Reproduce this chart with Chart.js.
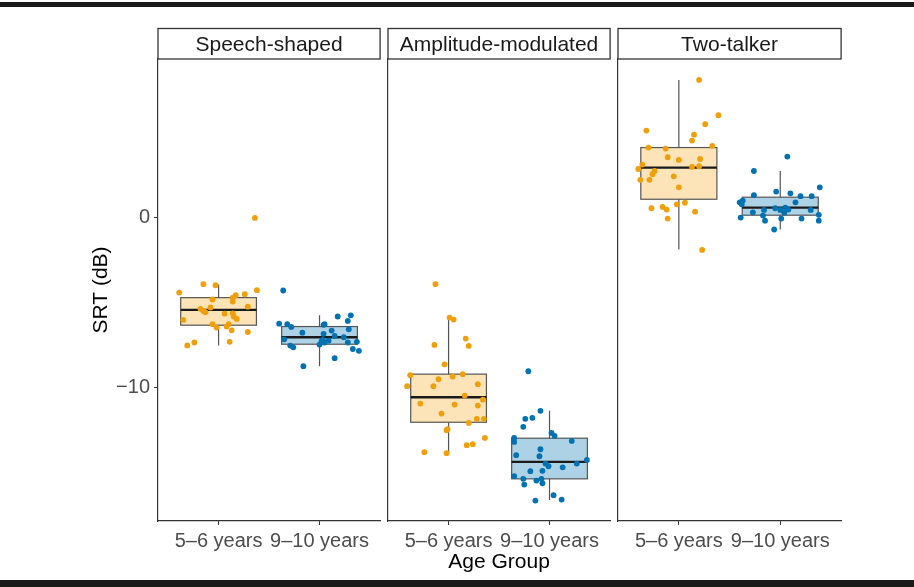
<!DOCTYPE html>
<html>
<head>
<meta charset="utf-8">
<script src="https://cdn.jsdelivr.net/npm/chart.js@4.4.1/dist/chart.umd.min.js"></script>
<style>
    body {margin: 0; background: #fff;}
    #wrap {position: relative; width: 914px; height: 587px; background: #fff; overflow: hidden;}
    .rule {position: absolute; left: 0; width: 914px; background: #1a1a1a;}
    canvas {position: absolute; top: 0;}
</style>
</head>
<body>
<div id="wrap">
    <div class="rule" style="top:2px;height:5px"></div>
    <canvas id="p0" width="383" height="587" style="left:0px"></canvas>
    <canvas id="p1" width="230" height="587" style="left:383px"></canvas>
    <canvas id="p2" width="231" height="587" style="left:613px"></canvas>
    <div class="rule" style="top:580px;height:7px"></div>
</div>
<script>
// facets and groups
var conditions = ['Speech-shaped', 'Amplitude-modulated', 'Two-talker'];
var groups = ['5–6 years', '9–10 years'];
var yTicks = [-10, 0];
var yRange = [-17.83, 9.35];

// box stats, [condition][group]
var whiskerLow  = [[-7.5, -8.72], [-13.84, -16.6], [-1.86, -0.68]];
var q1          = [[-6.31, -7.43], [-12.02, -15.35], [1.10, 0.16]];
var median      = [[-5.41, -7.02], [-10.55, -14.35], [2.96, 0.61]];
var q3          = [[-4.69, -6.39], [-9.19, -12.96], [4.14, 1.22]];
var whiskerHigh = [[-3.92, -5.73], [-5.86, -11.35], [8.12, 2.76]];

// jittered points: SRT (dB) and horizontal jitter (category units)
var speechYoung = [0.0, -4.39, -3.90, -3.96, -4.25, -4.49, -4.55, -4.69, -4.92, -4.80, -5.22, -5.27, -5.35, -5.47, -5.55, -5.63, -5.61, -5.80, -5.94, -6.0, -6.25, -6.45, -6.39, -6.25, -6.61, -6.71, -7.29, -7.33, -7.5];
var speechYoungJit = [0.36, -0.39, -0.15, -0.03, 0.38, 0.26, 0.17, 0.14, 0.14, -0.06, 0.29, -0.08, -0.18, -0.15, -0.13, 0.06, 0.14, 0.15, 0.18, -0.35, -0.06, -0.02, 0.08, 0.10, 0.13, 0.29, 0.11, -0.24, -0.31];
var speechOlder = [-4.27, -5.80, -5.73, -6.06, -6.22, -6.25, -6.41, -6.29, -6.25, -6.55, -6.63, -6.75, -6.82, -6.94, -7.02, -7.14, -7.22, -7.27, -7.33, -7.33, -7.29, -7.45, -7.51, -7.61, -7.71, -7.82, -8.25, -8.72, -7.18];
var speechOlderJit = [-0.36, 0.18, 0.31, 0.28, -0.40, -0.32, -0.28, 0.04, 0.05, 0.29, 0.12, -0.17, 0.04, 0.15, 0.24, -0.35, 0.09, 0.02, 0.05, 0.28, 0.37, 0.00, -0.29, -0.26, 0.33, 0.39, 0.15, -0.16, 0.03];
var ampYoung = [-3.90, -5.86, -5.98, -7.10, -7.47, -7.53, -8.61, -9.25, -9.19, -9.33, -9.49, -9.90, -9.90, -9.78, -10.45, -10.69, -10.92, -10.98, -11.04, -11.51, -11.82, -11.82, -12.06, -12.43, -12.49, -12.94, -13.37, -13.31, -13.78, -13.84];
var ampYoungJit = [-0.13, 0.01, 0.05, 0.17, -0.14, 0.20, -0.04, -0.38, 0.14, 0.04, -0.10, -0.41, -0.15, 0.29, 0.16, 0.34, -0.28, 0.06, 0.29, -0.07, 0.28, 0.35, 0.20, -0.01, -0.02, 0.36, 0.18, 0.24, -0.24, -0.02];
var ampOlder = [-9.02, -11.35, -11.82, -11.76, -12.29, -12.65, -12.82, -12.94, -13.18, -13.12, -13.61, -13.96, -14.02, -14.24, -14.45, -14.61, -14.45, -14.67, -14.90, -14.88, -15.19, -15.35, -15.45, -15.35, -15.69, -15.61, -16.31, -16.57, -16.63];
var ampOlderJit = [-0.21, -0.09, -0.24, -0.17, -0.26, 0.02, 0.05, -0.35, -0.35, 0.22, -0.09, -0.33, -0.10, 0.37, -0.04, -0.01, 0.27, 0.13, -0.19, -0.07, -0.35, -0.26, -0.13, -0.08, -0.25, -0.07, 0.04, 0.12, -0.14];
var twoYoung = [8.12, 6.04, 5.51, 5.14, 4.90, 4.55, 4.24, 4.14, 4.08, 3.57, 3.47, 3.41, 3.14, 3.04, 3.00, 2.88, 2.76, 2.57, 2.45, 2.24, 2.24, 1.80, 0.80, 0.90, 0.57, 0.65, 0.49, 0.37, -0.04, -1.88];
var twoYoungJit = [0.20, 0.39, 0.26, -0.32, 0.15, 0.13, 0.33, -0.30, -0.13, -0.11, 0.21, 0.00, -0.36, 0.20, 0.13, -0.40, -0.24, -0.26, -0.05, -0.38, -0.29, 0.00, -0.02, 0.06, -0.27, -0.16, -0.12, 0.16, -0.11, 0.23];
var twoOlder = [3.61, 2.76, 1.80, 1.55, 1.45, 1.34, 1.28, 1.28, 1.02, 0.92, 0.92, 0.80, 0.57, 0.61, 0.47, 0.47, 0.49, 0.47, 0.33, 0.31, 0.18, 0.14, 0.02, -0.04, -0.04, -0.16, -0.16, -0.68];
var twoOlderJit = [0.07, -0.26, 0.39, -0.04, 0.10, -0.26, 0.20, 0.31, -0.37, -0.40, 0.15, -0.38, -0.05, 0.05, -0.16, 0.00, 0.08, 0.30, -0.27, 0.04, 0.38, -0.17, -0.39, 0.01, 0.21, -0.15, 0.38, -0.06];

var points = [[speechYoung, speechOlder], [ampYoung, ampOlder], [twoYoung, twoOlder]];
var jitters = [[speechYoungJit, speechOlderJit], [ampYoungJit, ampOlderJit], [twoYoungJit, twoOlderJit]];

var dotColors = ['#EE9F0A', '#0072B2'];
var boxFills = ['rgba(245,165,20,0.3)', 'rgba(0,114,178,0.32)'];
var family = '"Liberation Sans", Arial, sans-serif';
Chart.defaults.font.family = family;

var boxPlugin = {
    id: 'boxes',
    beforeDatasetsDraw(chart, args, opts) {
        var {ctx, scales: {x, y}} = chart;
        var k = opts.panel;
        ctx.save();
        groups.forEach((g, i) => {
            var cx = x.getPixelForValue(i + 1);
            var half = x.getPixelForValue(i + 1 + 0.375) - cx;
            var yLo = y.getPixelForValue(whiskerLow[k][i]), yHi = y.getPixelForValue(whiskerHigh[k][i]);
            var yQ1 = y.getPixelForValue(q1[k][i]), yQ3 = y.getPixelForValue(q3[k][i]);
            var yMed = y.getPixelForValue(median[k][i]);
            ctx.strokeStyle = '#555';
            ctx.lineWidth = 1.2;
            ctx.beginPath();
            ctx.moveTo(cx, yHi); ctx.lineTo(cx, yQ3);
            ctx.moveTo(cx, yQ1); ctx.lineTo(cx, yLo);
            ctx.stroke();
            ctx.fillStyle = boxFills[i];
            ctx.fillRect(cx - half, yQ3, half * 2, yQ1 - yQ3);
            ctx.strokeRect(cx - half, yQ3, half * 2, yQ1 - yQ3);
            ctx.strokeStyle = '#1a1a1a';
            ctx.lineWidth = 2.3;
            ctx.beginPath();
            ctx.moveTo(cx - half, yMed); ctx.lineTo(cx + half, yMed);
            ctx.stroke();
        });
        ctx.restore();
    }
};

var stripPlugin = {
    id: 'strip',
    afterDraw(chart, args, opts) {
        var {ctx, chartArea: a} = chart;
        var top = a.top - 30.5;
        ctx.save();
        ctx.strokeStyle = '#333';
        ctx.lineWidth = 1.3;
        ctx.strokeRect(a.left, top, a.right - a.left, a.top - top);
        ctx.fillStyle = '#1a1a1a';
        ctx.font = '21px ' + family;
        ctx.textAlign = 'center';
        ctx.textBaseline = 'middle';
        ctx.fillText(opts.text, (a.left + a.right) / 2, (top + a.top) / 2 + 1);
        ctx.restore();
    }
};

function makePanel(k) {
    var first = k === 0;
    var datasets = groups.map((g, i) => ({
        label: g,
        data: points[k][i].map((v, j) => ({x: i + 1 + jitters[k][i][j], y: v})),
        backgroundColor: dotColors[i],
        borderWidth: 0,
        pointRadius: 2.9,
        pointHoverRadius: 2.9
    }));
    return new Chart(document.getElementById('p' + k), {
        type: 'scatter',
        data: {datasets},
        plugins: [boxPlugin, stripPlugin],
        options: {
            responsive: false,
            animation: false,
            layout: {padding: {top: 59, right: 2, bottom: 0, left: 0}},
            plugins: {
                legend: {display: false},
                tooltip: {enabled: false},
                boxes: {panel: k},
                strip: {text: conditions[k]}
            },
            scales: {
                x: {
                    type: 'linear', min: 0.4, max: 2.6,
                    afterBuildTicks: s => { s.ticks = groups.map((g, i) => ({value: i + 1})); },
                    afterFit: s => { s.height = 66; },
                    ticks: {callback: v => groups[v - 1], color: '#4d4d4d', font: {size: 20}, padding: 4, maxRotation: 0, autoSkip: false},
                    grid: {display: true, drawOnChartArea: false, drawTicks: true, tickLength: 4, color: '#333'},
                    border: {display: true, color: '#333', width: 1.2},
                    title: {display: k === 1, text: 'Age Group', color: '#000', font: {size: 21}, padding: {top: 0, bottom: 12}}
                },
                y: {
                    min: yRange[0], max: yRange[1],
                    afterBuildTicks: s => { s.ticks = yTicks.map(v => ({value: v})); },
                    afterFit: s => { s.width = first ? 158 : 5; },
                    ticks: {display: first, callback: v => v < 0 ? '\u2212' + (-v) : String(v), color: '#4d4d4d', font: {size: 20}, padding: 4},
                    grid: {display: true, drawOnChartArea: false, drawTicks: first, tickLength: 4, color: '#333'},
                    border: {display: true, color: '#333', width: 1.2},
                    title: {display: first, text: 'SRT (dB)', color: '#000', font: {size: 21}, padding: {top: 89, bottom: 0}}
                }
            }
        }
    });
}

conditions.forEach((c, k) => makePanel(k));
</script>
</body>
</html>
